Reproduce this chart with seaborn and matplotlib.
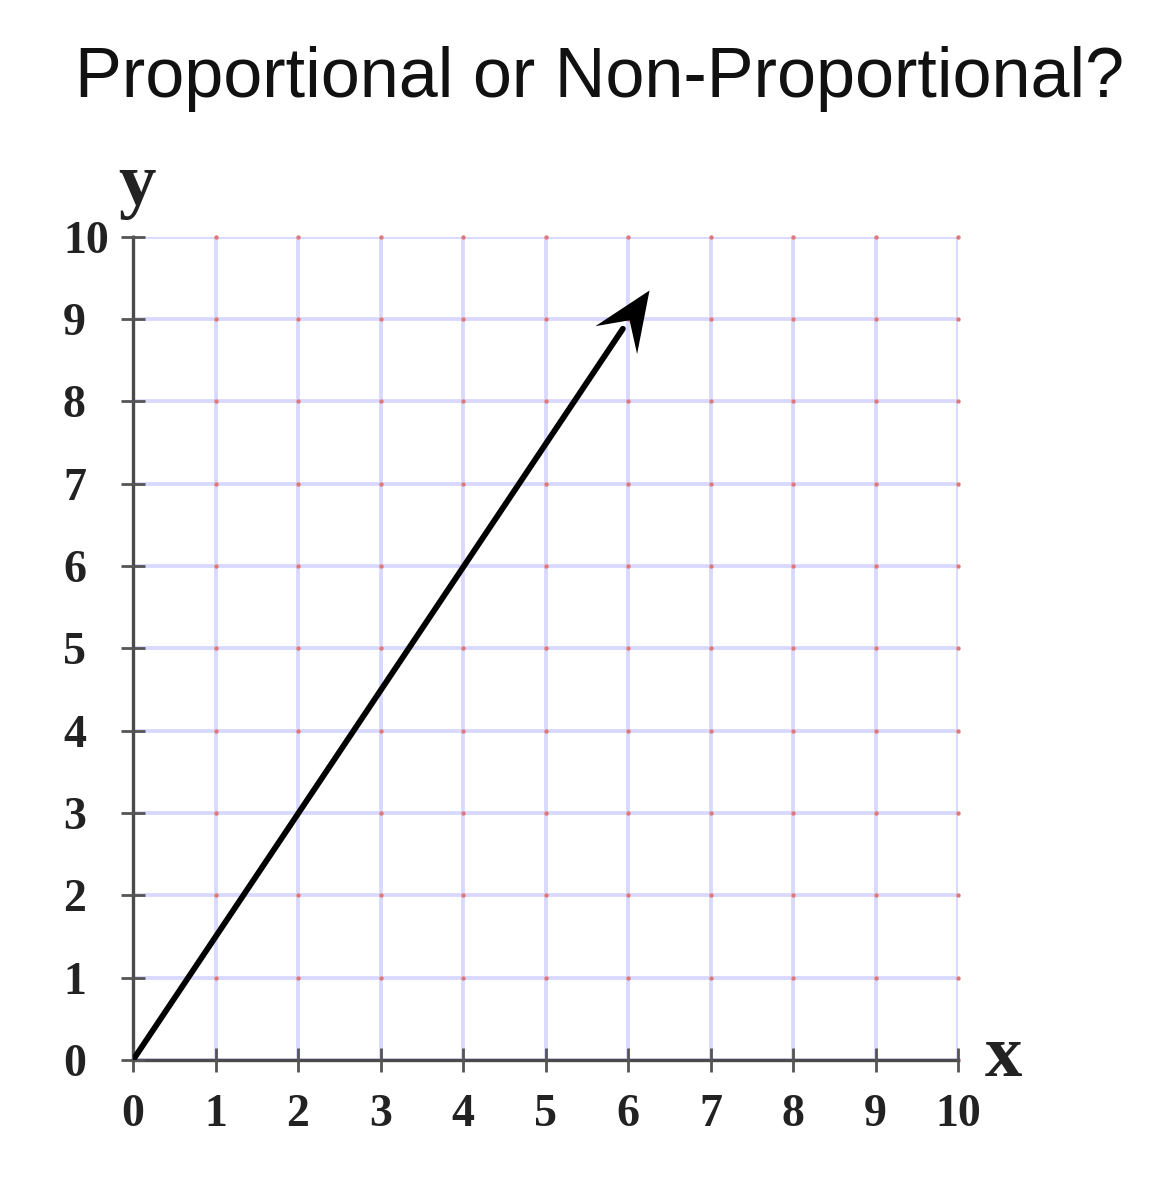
import matplotlib
matplotlib.use("Agg")
import matplotlib.pyplot as plt
from matplotlib.path import Path
from matplotlib.markers import MarkerStyle
from matplotlib.transforms import Affine2D
import seaborn as sns
import numpy as np
import pandas as pd

title = "Proportional or Non-Proportional?"
x_ticks = [0, 1, 2, 3, 4, 5, 6, 7, 8, 9, 10]
y_ticks = [0, 1, 2, 3, 4, 5, 6, 7, 8, 9, 10]
line_x = [0, 6.25]
line_y = [0, 9.35]

sns.set_style("white")
plt.rcParams['font.family'] = ['Liberation Serif', 'DejaVu Serif']

fig = plt.figure(figsize=(11.58, 12), dpi=100)
ax = fig.add_axes([0.1149, 0.1167, 0.7124, 0.686])
ax.set_axisbelow(False)

ax.set_xlim(0, 10)
ax.set_ylim(0, 10)

# grid
for v in x_ticks:
    ax.axvline(v, color='#d9d9ff', lw=2.8, zorder=1)
for v in y_ticks:
    ax.axhline(v, color='#d9d9ff', lw=2.8, zorder=1)

gx, gy = np.meshgrid(x_ticks, y_ticks)
dots = pd.DataFrame({"x": gx.ravel(), "y": gy.ravel()})
sns.scatterplot(data=dots, x="x", y="y", ax=ax, color='#e07878', s=10,
                linewidth=0, zorder=1.5, clip_on=False)

# arrow shaft (ends inside the head)
frac = 0.95
line = pd.DataFrame({"x": [line_x[0], line_x[0] + (line_x[1] - line_x[0]) * frac],
                     "y": [line_y[0], line_y[0] + (line_y[1] - line_y[0]) * frac]})
sns.lineplot(data=line, x="x", y="y", ax=ax, color='black', lw=4.2, zorder=6)

# arrow head as a rotated stealth marker
p0 = ax.transData.transform((line_x[0], line_y[0]))
p1 = ax.transData.transform((line_x[1], line_y[1]))
ang = np.degrees(np.arctan2(p1[1] - p0[1], p1[0] - p0[0]))
head = Path([(0, 0), (-1, 0.42), (-0.6, 0), (-1, -0.42), (0, 0)],
            [Path.MOVETO, Path.LINETO, Path.LINETO, Path.LINETO, Path.CLOSEPOLY])
mk = MarkerStyle(head, transform=Affine2D().rotate_deg(ang))
tip = pd.DataFrame({"x": [line_x[1]], "y": [line_y[1]]})
ax.plot(tip["x"], tip["y"], marker=mk, markersize=86, color='black',
        markeredgewidth=0, linestyle='none', zorder=7)

for s in ['top', 'right']:
    ax.spines[s].set_visible(False)
for s in ['left', 'bottom']:
    ax.spines[s].set_color('#4a4a4a')
    ax.spines[s].set_linewidth(2.4)
    ax.spines[s].set_zorder(4)
ax.xaxis.set_zorder(5)
ax.yaxis.set_zorder(5)

ax.set_xticks(x_ticks)
ax.set_yticks(y_ticks)
ax.tick_params(bottom=True, left=True, direction='inout', length=17, width=2,
               color='#555555', labelsize=33)
ax.tick_params(axis='y', pad=42)
ax.tick_params(axis='x', pad=16)
for lab in ax.get_yticklabels():
    lab.set_horizontalalignment('left')
for lab in ax.get_xticklabels() + ax.get_yticklabels():
    lab.set_fontweight('bold')
    lab.set_color('#222222')
ax.set_xlabel("")
ax.set_ylabel("")

ax.text(10.33, 0.02, "x", fontsize=54, fontweight='bold', ha='left', va='center',
        color='#222222', transform=ax.transData, clip_on=False)
ax.text(0.05, 10.2, "y", fontsize=54, fontweight='bold', ha='center', va='bottom',
        color='#222222', transform=ax.transData, clip_on=False)

fig.text(0.518, 0.919, title, fontsize=50.5, ha='center', va='baseline',
         family=['Liberation Sans', 'DejaVu Sans'], color='#111111')

fig.savefig("out.png", dpi=100)
